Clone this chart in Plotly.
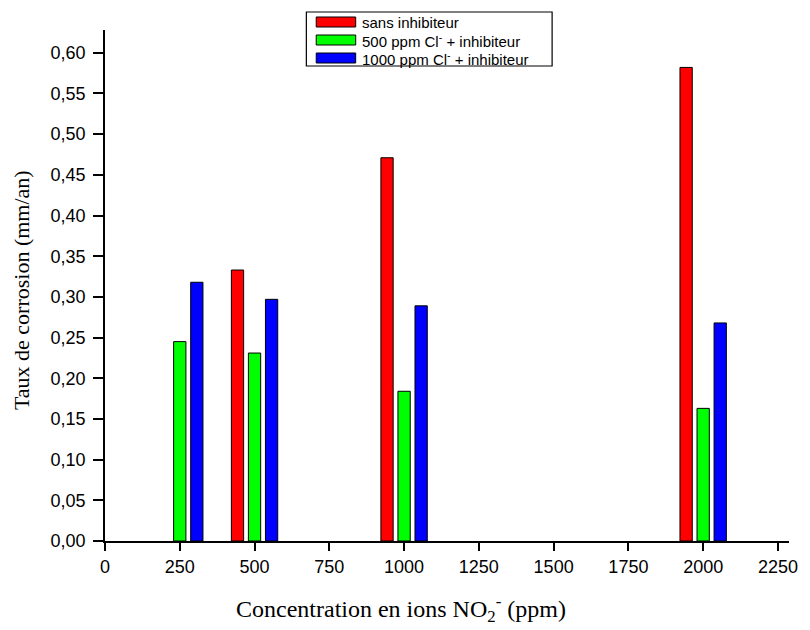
import plotly.graph_objects as go

# NO2- concentration (ppm) for each group of bars
concentrations = [250, 500, 1000, 2000]

# corrosion rate (mm/an)
sans_inhibiteur = [None, 0.333, 0.471, 0.582]
cl500_inhibiteur = [0.245, 0.231, 0.184, 0.163]
cl1000_inhibiteur = [0.318, 0.297, 0.289, 0.268]

series_names = [
    "sans inhibiteur",
    "500 ppm Cl<sup>-</sup> + inhibiteur",
    "1000 ppm Cl<sup>-</sup> + inhibiteur",
]
series_values = [sans_inhibiteur, cl500_inhibiteur, cl1000_inhibiteur]
series_colors = ["#FF0000", "#00FF00", "#0000FF"]

x_ticks = [0, 250, 500, 750, 1000, 1250, 1500, 1750, 2000, 2250]
y_ticks = [round(0.05 * i, 2) for i in range(13)]

W, H = 810, 630
ML, MR, MT, MB = 105, 12, 30, 89
PW, PH = W - ML - MR, H - MT - MB


def px_x(px):
    return (px - ML) / PW


def px_y(py):
    return 1 - (py - MT) / PH


fig = go.Figure()
for name, vals, col in zip(series_names, series_values, series_colors):
    fig.add_trace(go.Bar(
        x=concentrations, y=vals, name=name,
        marker=dict(color=col, line=dict(color="#000000", width=1)),
        showlegend=False,
    ))

serif = "Liberation Serif, Times New Roman, serif"
sans = "Liberation Sans, Arial, sans-serif"

axis_common = dict(
    showline=True, linecolor="black", linewidth=1.8,
    ticks="outside", tickwidth=1.8, tickcolor="black",
    showgrid=False, zeroline=False, mirror=False,
    tickfont=dict(family=sans, size=18, color="black"),
    minor=dict(ticks="outside", ticklen=5, tickwidth=1.8, tickcolor="black", nticks=2),
)

fig.update_xaxes(range=[0, 2287], tickvals=x_ticks, ticktext=[str(v) for v in x_ticks],
                 ticklen=8, **axis_common)
fig.update_yaxes(range=[0, 0.628], tickvals=y_ticks, tickformat=".2f",
                 ticklen=10, ticklabelstandoff=4, **axis_common)

# legend box drawn as shapes and annotations
shapes = [dict(type="rect", xref="paper", yref="paper",
               x0=px_x(309), x1=px_x(558), y0=px_y(66), y1=px_y(12),
               line=dict(color="black", width=1.2), fillcolor="white")]
annotations = []
for i, (name, col) in enumerate(zip(series_names, series_colors)):
    cy = 22 + i * 18
    shapes.append(dict(type="rect", xref="paper", yref="paper",
                       x0=px_x(319), x1=px_x(359), y0=px_y(cy + 5), y1=px_y(cy - 5),
                       line=dict(color="black", width=1), fillcolor=col))
    annotations.append(dict(xref="paper", yref="paper", x=px_x(363), y=px_y(cy),
                            xanchor="left", yanchor="middle", showarrow=False,
                            text=name, font=dict(family=sans, size=15, color="black")))

annotations.append(dict(xref="paper", yref="paper", x=px_x(20), y=px_y(290),
                        xanchor="center", yanchor="middle", showarrow=False, textangle=-90,
                        text="Taux de corrosion (mm/an)",
                        font=dict(family=serif, size=22, color="black")))
annotations.append(dict(xref="paper", yref="paper", x=px_x(405), y=px_y(609),
                        xanchor="center", yanchor="middle", showarrow=False,
                        text="Concentration en ions NO<sub>2</sub><sup>-</sup> (ppm)",
                        font=dict(family=serif, size=24, color="black")))

fig.update_layout(
    width=W, height=H,
    margin=dict(l=ML, r=MR, t=MT, b=MB, pad=0),
    paper_bgcolor="white", plot_bgcolor="white",
    barmode="group", bargap=0.316, bargroupgap=0.28,
    separators=",.",
    shapes=shapes, annotations=annotations,
)

fig.write_html("out.html")
